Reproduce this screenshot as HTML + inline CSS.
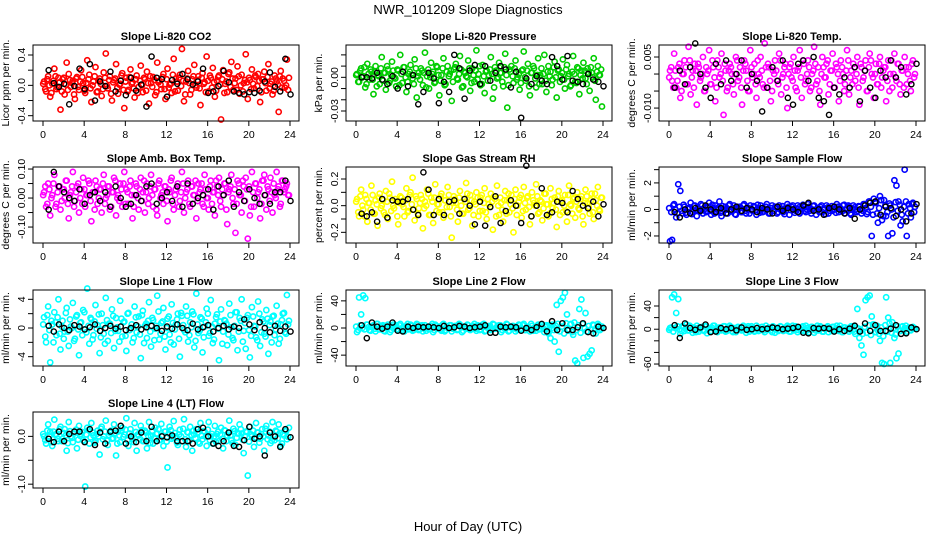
<!DOCTYPE html>
<html><head><meta charset="utf-8"><title>NWR_101209 Slope Diagnostics</title>
<style>
html,body{margin:0;padding:0;background:#fff;}
svg{display:block;font-family:"Liberation Sans",sans-serif;}
</style></head>
<body>
<svg id="chart" width="936" height="540" viewBox="0 0 936 540" xmlns="http://www.w3.org/2000/svg">
<text x="468" y="14" text-anchor="middle" font-size="13">NWR_101209  Slope Diagnostics</text>
<text x="468" y="531" text-anchor="middle" font-size="13">Hour of Day (UTC)</text>
</svg>
<script>
const xTicks = [0,4,8,12,16,20,24];
const titles = ["Slope Li-820 CO2","Slope Li-820 Pressure","Slope Li-820 Temp.","Slope Amb. Box Temp.","Slope Gas Stream RH","Slope Sample Flow","Slope Line 1 Flow","Slope Line 2 Flow","Slope Line 3 Flow","Slope Line 4 (LT) Flow"];
const yTitles = ["Licor ppm per min.","kPa per min.","degrees C per min.","degrees C per min.","percent per min.","ml/min per min.","ml/min per min.","ml/min per min.","ml/min per min.","ml/min per min."];
const colors = ["#ff0000","#00cd00","#ff00ff","#ff00ff","#ffff00","#0000ff","#00ffff","#00ffff","#00ffff","#00ffff"];
const yDomains = [[-0.47,0.532],[-0.0389,0.0288],[-0.0138,0.00853],[-0.155,0.107],[-0.28,0.29],[-2.53,3.2],[-5.3,5.3],[-56,56],[-63.4,67.6],[-1.08,0.51]];
const yTickVals = [[-0.4,-0.2,0,0.2,0.4],[-0.03,-0.02,-0.01,0,0.01,0.02],[-0.010,-0.005,0,0.005],[-0.10,-0.05,0,0.05,0.10],[-0.2,-0.1,0,0.1,0.2],[-2,-1,0,1,2,3],[-4,-2,0,2,4],[-40,-20,0,20,40],[-60,-40,-20,0,20,40],[-1.0,-0.5,0.0]];
const yTickLabels = [["-0.4","","0.0","","0.4"],["-0.03","","","0.00","",""],["-0.010","","","0.005"],["-0.10","","0.00","","0.10"],["-0.2","","0.0","","0.2"],["-2","","0","","2",""],["-4","","0","","4"],["-40","","0","","40"],["-60","","","0","","40"],["-1.0","","0.0"]];

const s0 = [0.05,-0.08,0.12,-0.15,0.02,0.22,-0.05,0.10,-0.32,0.08,-0.12,0.30,0.15,-0.02,0.06,-0.18,0.11,-0.06,0.20,0.03,-0.10,0.33,0.14,-0.22,0.05,0.24,-0.08,0.09,-0.14,0.17,0.42,-0.04,0.12,-0.20,0.07,0.28,-0.11,0.02,0.16,-0.30,0.10,-0.06,0.21,0.04,-0.16,0.13,-0.02,0.26,-0.09,0.08,0.18,-0.24,0.03,0.11,-0.13,0.30,0.06,-0.05,0.15,-0.18,0.22,0.01,-0.10,0.35,0.09,-0.07,0.14,0.48,-0.21,0.05,0.19,-0.12,0.08,0.27,-0.03,0.12,-0.26,0.16,0.04,0.38,-0.08,0.10,0.23,-0.15,0.06,0.13,-0.45,0.20,0.02,-0.09,0.17,0.31,-0.06,0.09,0.25,-0.11,0.14,0.03,0.41,-0.18,0.07,0.21,-0.04,0.11,0.15,-0.22,0.08,0.18,-0.07,0.28,0.02,-0.12,0.13,0.05,-0.35,0.19,0.09,-0.03,0.34,0.10];
const c0 = [0.02,-0.05,0.08,0.00,-0.10,0.06,0.12,-0.03,0.04,-0.08,0.10,0.01,-0.06,0.07,0.03,-0.12,0.09,-0.02,0.05,0.11,-0.07,0.03,0.08,-0.04,0.00,0.12,-0.09,0.06,0.02,-0.05,0.10,-0.01,0.07,-0.11,0.04,0.09,-0.03,0.01,0.13,-0.06,0.05,-0.08,0.11,0.02,-0.04,0.08,-0.10,0.06,0.00,0.10,-0.07,0.03,0.12,-0.02,0.07,-0.09,0.04,0.01,0.11,-0.05,0.08,-0.03,0.02,0.14,-0.08,0.05,0.10,-0.01,0.06,-0.12,0.09,0.03,-0.06,0.12,0.00,0.07,-0.04,0.10,0.02,-0.09,0.06,0.13,-0.03,0.04,-0.07,0.11,0.01,0.08,-0.10,0.05,0.15,-0.02,0.09,0.03,-0.06,0.12,0.00,-0.08,0.07,0.04,0.10,-0.05,0.02,0.13,-0.01,0.06,-0.09,0.08,0.03,0.11,-0.04,0.05,-0.07,0.09,0.01,0.12,-0.03,0.06,0.00,-0.06];
const b0 = [0.2,0.03,-0.02,0.02,-0.25,-0.01,0.22,-0.05,0.28,-0.2,0.05,-0.01,0.18,-0.08,0.06,-0.13,0.1,-0.07,0.01,-0.28,0.38,0.1,0.08,-0.15,0.07,0.02,0.15,0.08,0.01,0.05,0.22,-0.1,-0.08,-0.01,0.19,0.04,-0.08,-0.1,-0.12,-0.09,-0.1,-0.07,0.05,0.17,-0.02,-0.08,0.35,-0.12];
const s1 = [0.003,-0.004,0.008,0.001,-0.009,0.012,-0.002,0.005,-0.015,0.010,0.002,-0.006,0.018,0.004,-0.011,0.007,-0.003,0.014,0.000,-0.008,0.006,0.020,-0.005,0.009,-0.013,0.003,0.011,-0.001,0.016,-0.018,0.004,0.008,-0.007,0.022,0.001,-0.010,0.013,0.005,-0.004,0.009,-0.016,0.002,0.017,-0.006,0.010,0.003,-0.021,0.007,0.012,-0.002,0.019,-0.009,0.005,0.001,0.015,-0.012,0.008,-0.004,0.024,0.003,-0.007,0.011,-0.014,0.006,0.002,0.018,-0.019,0.009,-0.001,0.013,0.004,-0.008,0.021,-0.027,0.007,0.010,-0.005,0.015,0.000,-0.011,0.006,0.023,-0.003,0.012,-0.016,0.004,0.008,-0.009,0.017,0.002,-0.006,0.020,-0.013,0.010,0.005,-0.002,0.014,-0.018,0.007,0.001,0.016,-0.010,0.011,0.003,-0.007,0.019,-0.004,0.009,-0.015,0.006,0.013,-0.001,0.008,-0.012,0.004,0.017,-0.020,0.010,0.002,-0.026];
const c1 = [0.002,-0.004,0.006,0.000,0.009,-0.006,0.003,0.007,-0.002,0.005,-0.008,0.001,0.008,-0.003,0.004,0.010,-0.005,0.002,0.006,-0.001,0.007,-0.007,0.003,0.009,0.000,-0.004,0.005,0.002,-0.006,0.008,0.001,-0.002,0.006,0.004,-0.009,0.007,0.000,0.003,-0.005,0.010,0.002,-0.003,0.008,-0.007,0.005,0.001,0.006,-0.004,0.009,-0.001,0.003,0.007,-0.008,0.004,0.000,0.008,-0.005,0.002,0.006,-0.002,0.010,-0.006,0.001,0.005,-0.003,0.007,0.003,-0.009,0.006,0.000,0.004,-0.004,0.009,0.002,-0.007,0.005,0.001,0.008,-0.002,0.003,-0.005,0.007,0.000,0.006,-0.008,0.004,0.010,-0.001,0.002,-0.006,0.008,0.003,-0.003,0.005,0.001,-0.007,0.009,0.000,0.006,-0.004,0.004,-0.002,0.007,0.001,-0.008,0.005,0.003,-0.005,0.008,0.002,-0.001,0.006,-0.006,0.004,0.009,0.000,-0.003,0.005,0.002,0.007];
const b1 = [0.0,0.0,-0.001,0.004,-0.002,-0.006,0.001,-0.010,0.005,-0.008,0.002,-0.024,-0.013,0.004,-0.001,-0.023,-0.004,-0.013,0.020,0.008,-0.019,0.006,0.011,-0.006,0.010,-0.003,0.004,0.010,0.007,-0.009,0.005,-0.036,-0.001,-0.006,0.001,-0.003,-0.006,0.018,0.010,-0.002,0.019,-0.003,-0.004,-0.006,0.003,-0.002,-0.004,-0.008];
const s2 = [0.001,-0.002,0.006,-0.004,0.002,-0.007,0.000,0.004,-0.003,0.008,-0.006,0.001,0.003,-0.009,0.002,-0.001,0.005,-0.005,0.000,0.007,-0.003,0.002,-0.008,0.004,-0.001,0.006,-0.012,0.001,-0.004,0.003,0.000,-0.006,0.005,-0.002,0.002,-0.009,0.004,0.001,-0.005,0.007,-0.001,0.003,-0.007,0.000,0.005,-0.003,0.009,-0.004,0.002,-0.008,0.001,0.004,-0.002,0.006,-0.006,0.000,0.003,-0.010,0.002,-0.001,0.005,-0.004,0.001,0.007,-0.007,0.003,-0.002,0.004,-0.005,0.000,0.008,-0.003,0.002,-0.009,0.005,-0.001,0.003,-0.006,0.001,0.006,-0.004,0.002,-0.008,0.004,0.000,-0.003,0.007,-0.006,0.001,0.003,-0.002,0.005,-0.009,0.002,-0.001,0.004,-0.005,0.006,0.000,-0.007,0.003,-0.003,0.005,-0.001,0.002,-0.008,0.004,0.000,-0.004,0.006,-0.002,0.003,-0.006,0.001,0.005,-0.003,0.002,-0.005,0.004,0.000];
const c2 = [-0.001,0.002,-0.004,0.001,-0.002,0.003,-0.005,0.000,0.002,-0.003,0.004,-0.001,-0.004,0.001,0.003,-0.002,0.000,-0.005,0.002,0.001,-0.003,0.004,-0.001,-0.004,0.002,0.000,-0.002,0.003,-0.005,0.001,0.002,-0.003,0.000,0.004,-0.001,-0.004,0.001,0.003,-0.002,-0.005,0.002,0.000,-0.003,0.004,-0.001,0.001,-0.004,0.002,0.003,-0.002,-0.005,0.000,0.001,-0.003,0.004,-0.001,0.002,-0.004,0.000,0.003,-0.002,0.001,-0.005,0.002,-0.001,0.004,-0.003,0.000,0.002,-0.004,0.001,0.003,-0.002,-0.005,0.000,0.002,-0.001,0.004,-0.003,0.001,-0.004,0.003,0.000,-0.002,0.002,-0.005,0.001,0.004,-0.001,-0.003,0.002,0.000,-0.004,0.003,-0.002,0.001,-0.005,0.002,0.004,-0.001,0.000,-0.003,0.003,-0.004,0.001,0.002,-0.002,-0.005,0.004,0.000,-0.001,0.003,-0.003,0.001,-0.004,0.002,0.000,-0.002,0.003,-0.001];
const b2 = [-0.004,0.001,-0.003,0.002,0.009,0.000,-0.004,-0.007,0.003,-0.003,0.004,-0.002,0.000,0.004,-0.004,0.000,-0.002,-0.011,-0.004,0.002,-0.002,0.004,-0.007,-0.009,0.003,0.004,-0.002,0.005,-0.007,-0.008,-0.012,-0.004,-0.006,-0.001,-0.004,0.002,-0.008,0.001,-0.004,-0.007,0.001,-0.001,0.004,-0.001,0.002,-0.006,-0.003,0.003];
const s3 = [0.02,-0.03,0.05,-0.06,0.01,0.08,-0.02,0.04,-0.04,0.03,0.00,0.06,-0.07,0.02,0.09,-0.01,0.04,-0.05,0.03,0.07,-0.03,0.01,0.05,-0.08,0.02,0.06,-0.02,0.03,-0.05,0.08,0.00,0.04,-0.04,0.02,0.07,-0.06,0.01,0.05,-0.03,0.09,0.03,-0.02,0.06,-0.07,0.01,0.04,-0.04,0.07,0.02,-0.05,0.05,0.00,0.08,-0.03,0.03,-0.06,0.06,0.01,-0.02,0.04,-0.08,0.02,0.07,-0.04,0.03,0.05,-0.01,0.09,-0.05,0.02,0.06,-0.03,0.04,0.01,-0.07,0.05,0.03,-0.02,0.08,0.00,-0.04,0.06,0.02,-0.06,0.04,0.07,-0.03,0.01,0.05,-0.09,0.03,0.08,-0.02,-0.12,0.06,0.01,-0.05,0.04,0.07,-0.14,-0.06,0.09,-0.03,0.05,0.02,-0.07,0.06,0.08,-0.04,0.03,0.07,-0.05,0.01,0.09,0.04,-0.02,0.06,0.03,0.05,0.01];
const c3 = [0.01,0.04,-0.02,0.03,0.00,0.05,-0.03,0.02,0.04,-0.01,0.03,0.06,-0.02,0.01,0.04,-0.03,0.02,0.05,0.00,-0.02,0.03,0.01,0.06,-0.01,0.02,-0.04,0.04,0.00,0.03,0.05,-0.02,0.01,0.04,-0.03,0.02,0.06,0.00,-0.01,0.03,0.05,-0.02,0.02,0.04,0.01,-0.03,0.05,0.00,0.03,-0.01,0.06,0.02,-0.02,0.04,0.01,0.03,-0.04,0.05,0.00,0.02,0.04,-0.01,0.03,0.06,-0.02,0.01,0.04,-0.03,0.02,0.05,0.00,0.03,-0.02,0.04,0.01,0.06,-0.01,0.02,0.05,-0.03,0.03,0.00,0.04,-0.02,0.02,0.06,0.01,-0.01,0.03,0.05,-0.04,0.02,0.04,0.00,0.03,-0.02,0.05,0.01,0.06,-0.01,0.03,0.04,-0.03,0.02,0.05,0.00,0.03,-0.02,0.06,0.01,0.04,-0.01,0.02,0.05,0.00,0.03,-0.03,0.06,0.02,0.04,0.01];
const b3 = [-0.04,0.09,0.04,0.02,0.00,-0.01,0.03,-0.02,0.01,0.02,-0.01,0.02,-0.03,0.04,0.00,-0.03,-0.02,0.01,-0.01,0.04,0.05,-0.02,0.00,0.02,-0.01,0.04,-0.03,0.05,-0.02,0.00,0.01,0.03,-0.04,0.04,0.01,0.06,-0.03,0.02,-0.01,0.03,0.00,-0.02,0.01,-0.02,0.02,0.02,0.06,-0.01];
const s4 = [0.05,-0.08,0.12,-0.03,0.08,-0.12,0.02,0.15,-0.06,0.04,-0.15,0.09,0.00,-0.05,0.11,-0.10,0.06,0.18,-0.02,0.03,-0.14,0.07,0.01,-0.08,0.13,-0.04,0.10,0.21,-0.11,0.05,-0.02,0.08,-0.17,0.03,0.12,-0.07,0.06,-0.13,0.16,0.01,-0.05,0.09,-0.09,0.04,0.14,-0.01,-0.24,0.07,0.02,-0.12,0.11,-0.06,0.05,0.17,-0.03,0.08,-0.15,0.03,0.10,-0.08,0.06,-0.04,0.13,-0.10,0.01,0.09,-0.18,0.05,0.15,-0.07,0.02,-0.12,0.11,0.04,-0.05,0.08,-0.20,0.12,0.00,0.06,-0.09,0.14,-0.03,0.07,-0.14,0.10,0.02,0.16,-0.06,0.04,-0.11,0.09,0.01,-0.08,0.13,-0.02,0.06,-0.16,0.11,0.03,-0.05,0.08,-0.12,0.15,0.00,0.05,-0.09,0.10,-0.03,0.07,-0.14,0.12,0.02,-0.06,0.09,-0.10,0.04,0.14,-0.04,0.06];
const c4 = [0.03,-0.05,0.07,0.00,-0.08,0.05,0.02,-0.03,0.08,-0.06,0.01,0.06,-0.02,0.04,-0.07,0.03,0.09,-0.04,0.00,0.05,-0.08,0.02,0.06,-0.01,0.04,-0.05,0.08,0.01,-0.03,0.07,-0.06,0.02,0.05,-0.02,0.00,0.09,-0.07,0.03,0.06,-0.04,0.01,0.07,-0.05,0.04,-0.01,0.08,-0.08,0.02,0.05,-0.03,0.06,0.00,-0.06,0.03,0.09,-0.02,0.04,-0.07,0.01,0.06,-0.04,0.08,0.02,-0.05,0.05,-0.01,0.03,0.07,-0.08,0.00,0.06,-0.03,0.04,-0.06,0.09,0.01,-0.02,0.05,-0.07,0.03,0.08,-0.04,0.02,0.06,-0.01,-0.08,0.04,0.00,0.07,-0.05,0.03,-0.02,0.09,0.01,-0.06,0.05,0.02,-0.03,0.07,-0.07,0.04,0.00,-0.04,0.08,0.01,-0.06,0.06,0.03,-0.02,0.05,-0.08,0.02,0.07,-0.01,0.04,-0.05,0.09,0.00,-0.03,0.06];
const b4 = [-0.06,-0.08,-0.05,-0.12,0.05,-0.09,0.04,0.03,0.03,0.05,-0.03,-0.07,0.25,0.12,-0.07,0.05,-0.07,0.03,0.04,-0.06,0.05,0.00,-0.14,0.03,-0.15,-0.01,0.07,-0.13,-0.04,0.04,0.00,-0.13,0.30,-0.08,0.00,0.13,-0.07,-0.05,0.03,0.02,-0.05,0.11,0.05,0.00,-0.02,0.03,-0.08,0.01];
const s5 = [-2.4,-2.3,0.4,-0.6,1.9,1.4,-0.3,0.2,-0.4,0.1,0.5,-0.2,0.3,-0.5,0.0,0.4,-0.3,0.2,-0.1,0.5,-0.4,0.1,0.3,-0.2,0.6,-0.5,0.0,0.2,-0.3,0.4,-0.1,0.3,-0.4,0.1,0.2,-0.2,0.4,-0.3,0.0,0.3,-0.1,0.2,-0.4,0.1,0.3,-0.2,0.0,0.4,-0.3,0.1,-0.1,0.2,-0.3,0.3,0.0,-0.2,0.1,0.4,-0.4,0.2,0.0,-0.1,0.3,-0.3,0.1,0.2,-0.2,0.4,-0.1,0.0,0.3,-0.4,0.1,0.2,-0.2,0.0,0.3,-0.3,0.1,-0.1,0.2,0.4,-0.2,0.0,0.3,-0.3,0.1,0.2,-0.4,0.3,0.0,-0.1,0.2,-0.3,0.4,0.1,-0.2,0.6,-2.0,0.8,0.5,-1.0,1.0,-0.8,0.7,-0.5,-2.0,0.3,-1.8,2.2,1.8,0.6,-1.2,-0.9,3.0,-2.0,0.4,-0.6,0.5,0.2];
const c5 = [0.1,-0.2,0.3,0.0,-0.3,0.2,-0.1,0.35,-0.25,0.05,0.15,-0.35,0.25,-0.05,0.1,-0.15,0.3,0.0,-0.2,0.2,-0.1,0.35,-0.3,0.05,0.15,-0.25,0.25,-0.05,0.0,0.3,-0.15,0.1,-0.35,0.2,0.05,-0.2,0.3,-0.1,0.15,-0.3,0.0,0.25,-0.05,0.35,-0.25,0.1,-0.15,0.2,0.05,-0.3,0.3,-0.1,0.15,-0.2,0.0,0.25,-0.35,0.1,0.2,-0.05,0.3,-0.25,0.05,0.15,-0.15,0.35,-0.1,0.0,0.2,-0.3,0.25,-0.05,0.1,-0.2,0.3,0.05,-0.35,0.15,-0.1,0.25,0.0,-0.25,0.2,0.1,-0.15,0.35,-0.05,0.3,-0.3,0.05,0.15,-0.2,0.25,0.0,-0.1,0.4,-0.35,0.6,0.2,-0.4,0.5,-0.3,0.1,0.7,-0.5,0.3,-0.2,0.45,0.0,-0.6,0.55,-0.1,0.35,-0.4,0.2,0.6,-0.3,0.1,0.4,-0.2];
const b5 = [-0.2,-0.6,0.0,-0.3,0.1,-0.1,0.3,0.0,-0.2,0.1,-0.3,0.0,0.2,-0.1,0.1,0.0,-0.2,0.1,0.0,-0.3,0.2,-0.1,0.1,0.0,-0.2,0.3,0.5,-0.1,0.0,-0.4,0.1,0.2,0.0,-0.3,0.1,-0.7,0.0,0.3,0.5,0.6,-0.4,0.2,0.1,-0.5,0.0,-0.9,-0.3,0.4];
const s6 = [1.5,-2.0,3.0,-4.8,0.5,2.2,-1.0,4.0,-3.0,1.0,-0.5,2.8,-2.5,0.2,3.5,-1.5,1.8,-3.8,0.8,2.5,-0.2,5.5,-2.2,1.2,-1.0,3.2,0.4,-3.5,2.0,-0.8,4.2,-1.8,0.6,2.6,-2.8,1.4,-0.4,3.8,-1.2,0.9,-3.2,2.1,0.0,-2.0,3.0,-0.6,1.6,-4.2,2.4,0.3,-1.4,3.6,-2.6,1.1,-0.1,4.5,-1.6,0.7,2.8,-3.0,1.3,-0.9,3.3,-2.3,0.5,2.0,-4.0,1.7,-0.3,3.0,-1.9,0.8,2.3,-2.7,4.8,-0.7,1.5,-3.4,0.2,2.7,-1.1,3.9,-2.1,0.6,1.9,-4.5,2.6,-0.5,1.0,-2.4,3.4,0.1,-1.7,2.2,-3.1,1.4,4.0,-0.4,-2.9,1.8,-4.1,2.9,0.3,-1.3,3.7,-2.5,1.2,-0.8,2.5,-3.6,0.9,1.6,-1.0,3.1,-2.2,0.5,2.0,-0.6,4.6,1.0];
const c6 = [0.5,-1.2,1.8,-0.3,1.0,-2.0,0.8,1.5,-0.8,0.2,-1.5,2.1,-0.5,1.2,0.0,-1.8,1.6,-0.2,0.7,-1.0,2.2,-0.6,0.3,1.4,-1.6,0.9,-0.1,1.9,-1.3,0.4,-2.2,1.1,0.6,-0.7,1.7,-0.4,0.1,-1.9,1.3,0.8,-1.1,2.0,-0.3,0.5,-1.4,1.5,0.2,-0.9,1.8,-2.1,0.6,1.0,-0.5,1.4,-1.7,0.3,2.3,-0.8,0.9,-1.2,0.0,1.6,-2.0,0.7,-0.2,1.2,-1.5,2.1,0.4,-0.6,1.7,-1.0,0.1,1.9,-1.8,0.5,-0.4,1.3,-1.3,0.8,2.0,-0.7,0.2,-1.6,1.5,-0.1,0.9,-2.2,1.1,0.6,-0.9,1.8,-1.4,0.3,2.2,-0.5,1.0,-1.9,0.7,1.4,-0.3,-1.1,1.6,0.2,-1.7,2.0,-0.6,0.9,-1.2,1.3,0.4,-2.0,1.7,-0.2,0.6,-1.5,1.1,2.1,-0.8,0.5];
const b6 = [0.3,-0.5,0.5,0.0,-0.3,0.4,0.2,-0.2,0.1,0.5,-0.4,0.0,0.3,-0.1,0.2,-0.3,0.0,0.4,-0.2,0.1,0.3,0.0,-0.4,0.2,-0.1,0.5,0.0,-0.3,0.6,-0.2,0.1,0.4,-0.5,0.0,0.3,-0.2,0.2,0.0,1.2,0.5,-0.3,0.8,0.0,-0.6,0.3,-0.4,0.2,-0.5];
const s7 = [-6,45,20,48,44,5,-3,2,4,-5,6,-2,3,-4,1,5,-6,2,-1,4,-3,6,0,-5,3,-2,5,-4,1,6,-3,2,-5,4,0,-2,3,-6,5,-1,2,-4,6,-3,0,4,-5,1,3,-2,5,-6,2,-1,4,-3,0,6,-4,2,-2,5,-5,1,3,-3,6,-1,0,4,-6,2,-2,5,-4,1,3,-5,0,4,-2,6,-3,1,-5,3,0,-4,5,-1,2,-6,4,-8,-15,5,-20,34,-35,40,45,52,20,-2,6,-10,-48,-52,28,42,-44,22,-42,-38,-33,4,-8,6,-3,2];
const c7 = [2,-3,4,0,-2,5,1,-4,3,-1,6,-2,2,4,-5,0,3,-3,5,1,-2,4,-4,2,0,6,-1,3,-3,1,5,-2,4,0,-4,2,-1,6,-3,3,1,-2,5,-5,2,0,4,-1,3,-3,6,1,-4,2,5,-2,0,3,-1,4,-3,2,6,-4,1,3,-2,5,0,-1,4,-3,2,6,-5,1,3,0,-2,5,-1,4,-3,2,0,6,-4,1,3,-2,5,-1,2,-6,4,0,-3,3,6,-5,2,-8,7,-4,5,-6,8,-3,4,-7,6,0,-5,3,-2,5,-3,2,4,-1];
const b7 = [4,-15,8,2,-1,2,8,-4,-5,2,0,2,1,2,1,0,3,0,1,3,2,0,1,2,4,-7,-7,2,1,2,1,-4,0,-3,1,6,-5,10,-3,7,-3,-3,1,7,-6,-8,2,0];
const s8 = [2,55,60,28,52,-8,5,-3,8,-2,4,-6,1,6,-4,3,-1,5,-7,2,-3,6,0,-5,3,-2,5,-4,1,6,-3,2,-5,4,0,-2,3,-6,5,-1,2,-4,6,-3,0,4,-5,1,3,-2,5,-6,2,-1,4,-3,0,6,-4,2,-2,5,-5,1,3,-3,6,-1,0,4,-6,2,-2,5,-4,1,3,-5,0,4,-2,6,-3,1,-5,3,0,-4,5,-1,-8,35,-15,-28,-44,50,55,58,22,8,-5,-2,-20,-58,-60,55,20,-58,12,-15,-50,-42,-3,5,2,-4,3,-2,4,1];
const c8 = [-1,3,-4,2,5,0,-3,4,1,-2,6,-1,3,-5,2,0,4,-3,5,1,-4,2,6,-2,0,3,-1,5,-3,2,4,-5,1,3,0,-2,6,-1,2,-4,5,1,-3,3,0,4,-2,6,-1,2,-5,3,1,-3,5,0,2,-2,4,-4,6,1,-1,3,-3,5,0,2,-5,4,1,-2,6,-1,3,-4,2,5,0,-3,4,1,-2,6,-5,3,0,2,-1,5,-4,3,1,-3,-8,4,-6,7,-10,8,-5,6,-8,3,-12,7,-4,10,-6,2,-9,5,-3,4,-2,6,1,-1,3,2];
const b8 = [7,-15,10,2,-1,3,8,-5,-4,2,0,2,-2,3,-1,0,2,0,1,3,2,0,1,2,4,-6,-7,2,1,2,1,-4,0,-3,1,6,-4,10,-3,7,-3,-3,1,7,-8,-7,3,0];
const s9 = [0.0,-0.15,0.25,0.1,-0.2,0.35,0.05,-0.1,0.2,-0.05,0.15,-0.3,0.3,0.0,-0.12,0.1,-0.25,0.22,0.05,-0.08,-1.05,0.18,-0.15,0.28,0.02,-0.1,0.12,-0.38,0.2,0.0,0.33,-0.18,0.08,-0.05,0.25,-0.4,0.1,-0.12,0.18,0.04,0.38,-0.2,0.15,-0.06,0.28,-0.3,0.02,0.22,-0.1,0.12,-0.25,0.3,0.0,-0.15,0.18,0.06,-0.08,0.26,-0.2,0.1,-0.65,0.2,-0.05,0.32,0.0,-0.18,0.14,-0.1,0.36,-0.22,0.08,0.2,-0.3,0.04,0.15,-0.12,0.28,-0.06,0.1,-0.2,0.3,0.0,-0.15,0.22,0.05,-0.1,0.18,-0.25,0.12,0.02,0.33,-0.08,0.16,-0.18,0.06,0.25,0.06,-0.35,0.1,-0.82,0.2,0.0,-0.22,0.28,0.08,-0.05,0.15,-0.3,0.22,0.02,-0.14,0.3,-0.08,0.1,0.25,-0.2,0.05,0.12,-0.06,0.18];
const c9 = [0.05,-0.08,0.12,0.00,-0.12,0.10,0.03,-0.05,0.15,-0.10,0.07,0.02,-0.14,0.11,-0.03,0.06,0.14,-0.07,0.01,0.09,-0.11,0.04,0.13,-0.02,0.08,-0.13,0.05,0.00,0.16,-0.06,0.10,-0.09,0.03,0.12,-0.04,0.07,-0.15,0.02,0.11,-0.01,0.14,-0.08,0.06,0.00,-0.12,0.09,0.04,-0.05,0.13,-0.10,0.08,0.01,-0.14,0.12,-0.03,0.05,0.15,-0.07,0.02,0.10,-0.11,0.06,0.13,-0.02,0.07,-0.13,0.04,0.00,0.16,-0.06,0.09,-0.09,0.03,0.12,-0.04,0.08,-0.15,0.01,0.11,-0.01,0.14,-0.08,0.05,0.00,-0.12,0.10,0.03,-0.05,0.13,-0.10,0.07,0.02,-0.14,0.11,-0.03,0.06,0.15,-0.07,0.01,0.09,-0.11,0.04,0.12,-0.02,0.08,-0.13,0.05,0.00,0.16,-0.06,0.10,-0.09,0.03,0.12,-0.04,0.07,-0.15,0.02,0.11,-0.01];
const b9 = [-0.05,-0.12,0.1,-0.1,0.05,0.1,0.1,-0.12,0.15,-0.18,0.08,-0.15,0.1,0.12,0.22,-0.15,0.0,-0.12,0.08,-0.1,0.2,-0.1,0.0,-0.02,0.02,-0.1,-0.1,-0.1,-0.15,0.15,0.18,0.0,-0.15,-0.2,-0.1,0.08,-0.2,-0.22,-0.08,0.2,-0.05,0.0,-0.4,0.08,0.0,-0.22,0.15,-0.02];

const seriesColor = [s0,s1,s2,s3,s4,s5,s6,s7,s8,s9];
const seriesCore = [c0,c1,c2,c3,c4,c5,c6,c7,c8,c9];
const seriesBlack = [b0,b1,b2,b3,b4,b5,b6,b7,b8,b9];

const NS = "http://www.w3.org/2000/svg";
const svg = document.getElementById('chart');
const colLeft = [33,346,659];
const rowTop = [45,167,290,412];
const boxW = 266, boxH = 76;

function mk(tag, attrs, parent){
  const e = document.createElementNS(NS, tag);
  for (const k in attrs) e.setAttribute(k, attrs[k]);
  parent.appendChild(e);
  return e;
}

for (let p = 0; p < 10; p++) {
  const L = colLeft[p % 3], T = rowTop[Math.floor(p / 3)];
  const g = mk('g', {}, svg);
  
  
  const dom = yDomains[p];
  const xScale = h => L + 10 + h * (247 / 24);
  const yScale = v => T + boxH - (v - dom[0]) / (dom[1] - dom[0]) * boxH;

  const title = mk('text', {x: L + boxW / 2, y: T - 5, 'text-anchor': 'middle', 'font-size': 11, 'font-weight': 'bold'}, g);
  
  
  title.textContent = titles[p];

  const yt = mk('text', {x: 0, y: 0, 'text-anchor': 'middle', 'font-size': 10.5, transform: `translate(${L - 24},${T + boxH / 2}) rotate(-90)`}, g);
  
  
  yt.textContent = yTitles[p];

  const cg = mk('g', {fill: 'none', stroke: colors[p], 'stroke-width': 1.6}, g);
  
  
  const sc = seriesColor[p];
  sc.forEach((v, i) => {
    const c = mk('circle', {cx: xScale(i * 24 / sc.length + 0.1), cy: yScale(v), r: 2.6}, cg);
    
    
  });
  const cc = seriesCore[p];
  cc.forEach((v, i) => {
    const c = mk('circle', {cx: xScale(i * 24 / cc.length + 0.02), cy: yScale(v), r: 2.6}, cg);
    
    
  });

  const bg = mk('g', {fill: 'none', stroke: '#000', 'stroke-width': 1.4}, g);
  
  
  const sb = seriesBlack[p];
  sb.forEach((v, i) => {
    const c = mk('circle', {cx: xScale(i * 24 / sb.length + 0.55), cy: yScale(v), r: 2.6}, bg);
    
    
  });

  const fr = mk('rect', {x: L, y: T, width: boxW, height: boxH, fill: 'none', stroke: '#000', 'stroke-width': 1}, g);
  
  

  const xa = mk('g', {stroke: '#000', 'stroke-width': 1}, g);
  
  
  mk('line', {x1: xScale(0), x2: xScale(24), y1: T + boxH, y2: T + boxH}, xa);
  xTicks.forEach(t => {
    const x = xScale(t);
    mk('line', {x1: x, x2: x, y1: T + boxH, y2: T + boxH + 5}, xa);
    const lb = mk('text', {x: x, y: T + boxH + 17, 'text-anchor': 'middle', 'font-size': 10.5, stroke: 'none', fill: '#000'}, g);
    
    
    lb.textContent = t;
  });

  const ya = mk('g', {stroke: '#000', 'stroke-width': 1}, g);
  
  
  const tv = yTickVals[p];
  mk('line', {x1: L, x2: L, y1: yScale(tv[0]), y2: yScale(tv[tv.length - 1])}, ya);
  tv.forEach((t, i) => {
    const y = yScale(t);
    mk('line', {x1: L - 5, x2: L, y1: y, y2: y}, ya);
    const s = yTickLabels[p][i];
    if (s) {
      const lb = mk('text', {x: 0, y: 0, 'text-anchor': 'middle', 'font-size': 10.5, transform: `translate(${L - 8},${y}) rotate(-90)`}, g);
      
      
      lb.textContent = s;
    }
  });
}
</script>
</body></html>
